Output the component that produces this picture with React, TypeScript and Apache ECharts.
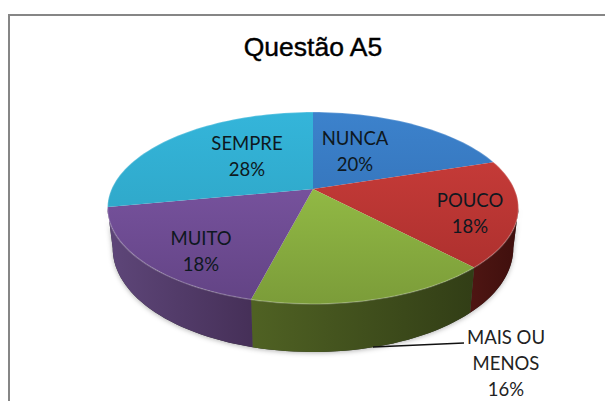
import React, { useEffect, useRef } from "react";
import * as echarts from "echarts";

const titleText = "Questão A5";
const categories = ["NUNCA", "POUCO", "MAIS OU MENOS", "MUITO", "SEMPRE"];
const percentages = [20, 18, 16, 18, 28];

// Label line layouts and centres (layout only)
const labelLines = [["NUNCA"], ["POUCO"], ["MAIS OU", "MENOS"], ["MUITO"], ["SEMPRE"]];
const labelCentres = [
  [355, 151],
  [470, 213],
  [506, 363],
  [201, 251],
  [247, 156],
];

const topColors = [
  ["#3c82cc", "#2f68ab"],
  ["#cf3f3c", "#a62d2b"],
  ["#a0cc4c", "#7b9c39"],
  ["#835bac", "#624384"],
  ["#34b5da", "#2b9dbb"],
];
const wallColors = [
  ["#2f68ab", "#2f68ab"],
  ["#4f1613", "#3f0f0d"],
  ["#4f6123", "#323e16"],
  ["#5e4679", "#452f57"],
  ["#2b9dbb", "#2b9dbb"],
];
const wallRange: [number, number][] = [
  [0, 0],
  [468, 518],
  [255, 472],
  [108, 256],
  [0, 0],
];

// Perspective projection of the disc
const CX = 313;
const CY = 189;
const A = 201.4;
const B = 92.2;
const K = -0.198;
const SIDE_FROM = 101.4;
const SIDE_TO = 258.6;

function project(deg: number): [number, number, number] {
  const t = (deg * Math.PI) / 180;
  const u = Math.sin(t);
  const v = -Math.cos(t);
  const d = 1 + K * v;
  return [CX + (A * u) / d, CY + (B * v) / d, v];
}
function projectBase(deg: number): [number, number] {
  const [x, y, v] = project(deg);
  return [CX + (x - CX) * 0.975, y + 38 + 10 * v];
}
function arc(a0: number, a1: number, fn: (d: number) => number[]) {
  const pts: number[][] = [];
  const n = Math.max(2, Math.ceil(Math.abs(a1 - a0) / 2));
  for (let i = 0; i <= n; i++) {
    const p = fn(a0 + ((a1 - a0) * i) / n);
    pts.push([p[0], p[1]]);
  }
  return pts;
}
const total = percentages.reduce((s, x) => s + x, 0);
function sliceAngles(i: number): [number, number] {
  let c = 0;
  for (let k = 0; k < i; k++) c += percentages[k];
  return [(c / total) * 360, ((c + percentages[i]) / total) * 360];
}

function wallPoints(i: number) {
  const [a0, a1] = sliceAngles(i);
  const s = Math.max(a0, SIDE_FROM);
  const e = Math.min(a1, SIDE_TO);
  if (e <= s) return null;
  return [...arc(s, e, project), ...arc(e, s, projectBase)];
}

function renderShadow(params: any) {
  const points = wallPoints(params.dataIndex);
  if (!points) return { type: "group", children: [] };
  return {
    type: "polygon",
    shape: { points },
    style: {
      fill: "#333333",
      shadowBlur: 5,
      shadowColor: "rgba(0,0,0,0.3)",
      shadowOffsetY: 1,
    },
  };
}

function renderWall(params: any) {
  const i = params.dataIndex;
  const points = wallPoints(i);
  if (!points) return { type: "group", children: [] };
  return {
    type: "polygon",
    shape: { points },
    style: {
      fill: new echarts.graphic.LinearGradient(
        wallRange[i][0], 0, wallRange[i][1], 0,
        [
          { offset: 0, color: wallColors[i][0] },
          { offset: 1, color: wallColors[i][1] },
        ],
        true
      ),
    },
  };
}

function renderTop(params: any) {
  const i = params.dataIndex;
  const [a0, a1] = sliceAngles(i);
  const points = [[CX, CY], ...arc(a0, a1, project)];
  return {
    type: "group",
    children: [
      {
        type: "polygon",
        shape: { points },
        style: {
          fill: new echarts.graphic.LinearGradient(
            0, 112, 0, 305,
            [
              { offset: 0, color: topColors[i][0] },
              { offset: 1, color: topColors[i][1] },
            ],
            true
          ),
        },
      },
      {
        type: "polyline",
        shape: { points: arc(a0, a1, project) },
        style: { fill: "none", stroke: "rgba(255,255,255,0.22)", lineWidth: 1.5 },
      },
    ],
  };
}

function renderLabel(params: any) {
  const i = params.dataIndex;
  const lines = [...labelLines[i], `${percentages[i]}%`];
  return {
    type: "text",
    x: labelCentres[i][0],
    y: labelCentres[i][1],
    style: {
      text: lines.join("\n"),
      fill: i === 2 ? "#222222" : "#0e1820",
      font: "18.5px Lato",
      lineHeight: 26,
      align: "center",
      verticalAlign: "middle",
    },
  };
}

export default function App() {
  const ref = useRef<HTMLDivElement>(null);
  useEffect(() => {
    const chart = echarts.init(ref.current!, undefined, { renderer: "svg" });
    const data = categories.map((name, i) => ({ name, value: percentages[i] }));
    chart.setOption({
      animation: false,
      backgroundColor: "#ffffff",
      title: {
        text: titleText,
        left: 308,
        top: 28,
        textAlign: "center",
        textStyle: {
          fontFamily: "Liberation Sans",
          fontSize: 26.5,
          fontWeight: "normal",
          color: "#000000",
          textBorderColor: "#000000",
          textBorderWidth: 0.4,
        },
      },
      graphic: [
        {
          type: "polyline",
          shape: { points: [[9, 401], [9, 15], [605, 15]] },
          style: { fill: "none", stroke: "#868686", lineWidth: 2 },
          silent: true,
        },
        {
          type: "polyline",
          z: 20,
          shape: { points: [[373, 347], [464, 343]] },
          style: { fill: "none", stroke: "#111111", lineWidth: 1.7 },
          silent: true,
        },
      ],
      series: [
        { type: "custom", coordinateSystem: "none", z: 0, data, renderItem: renderShadow },
        { type: "custom", coordinateSystem: "none", z: 1, data, renderItem: renderWall },
        { type: "custom", coordinateSystem: "none", z: 2, data, renderItem: renderTop },
        { type: "custom", coordinateSystem: "none", z: 3, data, renderItem: renderLabel },
      ],
    });
    return () => chart.dispose();
  }, []);
  return <div ref={ref} style={{ position: "absolute", left: 0, top: 0, width: 605, height: 401 }} />;
}
